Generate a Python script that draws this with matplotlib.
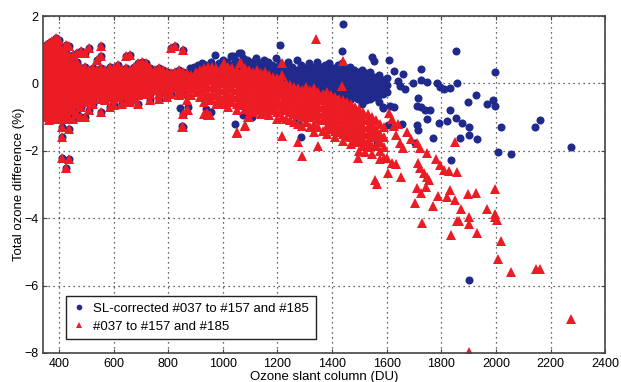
import matplotlib
matplotlib.use("Agg")
import matplotlib.pyplot as plt

plt.rcParams['font.family'] = ['Liberation Sans', 'DejaVu Sans']

# red triangles (#037 to #157 and #185): dense part, one list of y per x column
red_col_x = [352, 364, 376, 388, 400, 412, 424, 436, 450, 465, 480, 495, 510, 525,
             540, 555, 570, 585, 600, 615, 630, 645, 660, 675, 690, 705, 720, 735,
             750, 765, 780, 795, 810, 825, 840, 855, 870, 885, 900, 915, 930, 945,
             960, 975, 990, 1005, 1020, 1035, 1050, 1065, 1080, 1095, 1110, 1125,
             1140, 1155, 1170, 1185, 1200, 1215, 1230, 1245, 1260, 1275, 1290,
             1305, 1320, 1335, 1350, 1365, 1380, 1395, 1410, 1425, 1440, 1455,
             1470, 1485, 1500, 1515, 1530, 1545, 1560, 1575, 1590]
red_col_y = [
    [1.15, 0.95, 0.8, 0.65, 0.5, 0.35, 0.2, 0.05, -0.1, -0.25, -0.4, -0.55, -0.7, -0.85, -1.0],
    [1.2, 1.0, 0.85, 0.7, 0.55, 0.4, 0.25, 0.1, -0.05, -0.2, -0.35, -0.5, -0.65, -0.8, -0.95, -1.1],
    [1.25, 1.1, 0.9, 0.75, 0.6, 0.45, 0.3, 0.15, 0.0, -0.15, -0.3, -0.45, -0.6, -0.75, -0.9, -1.05],
    [1.35, 1.15, 0.95, 0.8, 0.65, 0.5, 0.35, 0.2, 0.05, -0.1, -0.25, -0.4, -0.55, -0.7, -0.85, -1.0],
    [1.3, 1.1, 0.9, 0.75, 0.6, 0.45, 0.3, 0.15, 0.0, -0.15, -0.3, -0.45, -0.6, -0.75, -0.9, -1.05],
    [1.0, 0.85, 0.7, 0.55, 0.4, 0.25, 0.1, -0.05, -0.2, -0.35, -0.5, -0.65, -0.8, -1.0, -1.3, -1.6, -2.2],
    [1.15, 0.9, 0.7, 0.55, 0.4, 0.25, 0.1, -0.05, -0.2, -0.35, -0.5, -0.65, -0.85, -1.05, -2.5],
    [1.1, 0.8, 0.6, 0.45, 0.3, 0.15, 0.0, -0.15, -0.3, -0.45, -0.6, -0.8, -1.0, -1.35, -2.25],
    [0.85, 0.6, 0.45, 0.3, 0.15, 0.0, -0.15, -0.3, -0.45, -0.6, -0.75, -1.05],
    [0.9, 0.65, 0.45, 0.3, 0.15, 0.0, -0.15, -0.3, -0.45, -0.6, -0.9],
    [0.95, 0.45, 0.3, 0.15, 0.0, -0.15, -0.3, -0.45, -0.7, -1.0],
    [0.9, 0.5, 0.35, 0.2, 0.05, -0.1, -0.25, -0.4, -0.55, -1.0],
    [1.05, 0.4, 0.25, 0.1, -0.05, -0.2, -0.35, -0.5, -0.8],
    [0.45, 0.3, 0.15, 0.0, -0.15, -0.3, -0.45, -0.6],
    [0.7, 0.4, 0.25, 0.1, -0.05, -0.2, -0.35],
    [1.1, 0.8, 0.45, 0.3, 0.15, 0.0, -0.15, -0.3, -0.45, -0.85],
    [0.4, 0.25, 0.1, -0.05, -0.2, -0.35, -0.5],
    [0.5, 0.35, 0.2, 0.05, -0.1, -0.25, -0.4, -0.7],
    [0.45, 0.3, 0.15, 0.0, -0.15, -0.3, -0.45, -0.65],
    [0.55, 0.35, 0.2, 0.05, -0.1, -0.25, -0.4],
    [0.4, 0.25, 0.1, -0.05, -0.2, -0.35, -0.6],
    [0.8, 0.45, 0.3, 0.15, 0.0, -0.15, -0.3, -0.55],
    [0.85, 0.4, 0.25, 0.1, -0.05, -0.2, -0.35, -0.55],
    [0.5, 0.35, 0.2, 0.05, -0.1, -0.25, -0.45],
    [0.6, 0.4, 0.25, 0.1, -0.05, -0.2, -0.35, -0.6],
    [0.65, 0.45, 0.3, 0.15, 0.0, -0.15, -0.3],
    [0.6, 0.5, 0.35, 0.2, 0.05, -0.1, -0.25],
    [0.45, 0.3, 0.15, 0.0, -0.15, -0.3, -0.5],
    [0.4, 0.25, 0.1, -0.05, -0.2],
    [0.45, 0.3, 0.15, 0.0, -0.15, -0.3, -0.45],
    [0.4, 0.25, 0.1, -0.05, -0.2],
    [0.35, 0.2, 0.05, -0.1, -0.25, -0.4],
    [1.05, 0.3, 0.15, 0.0, -0.15, -0.3],
    [1.1, 0.35, 0.2, 0.05, -0.1],
    [0.4, 0.2, 0.05, -0.1, -0.25, -0.35],
    [1.0, 0.35, 0.15, -0.05, -0.3, -0.9, -1.3],
    [0.3, 0.1, -0.1, -0.3, -0.5, -0.8],
    [0.25, 0.05, -0.15, -0.35],
    [0.35, 0.15, -0.05, -0.25],
    [0.4, 0.2, 0.0, -0.2, -0.4],
    [0.45, 0.25, 0.05, -0.15, -0.35, -0.55, -0.9],
    [0.5, 0.3, 0.1, -0.1, -0.3, -0.5, -0.95],
    [0.5, 0.3, 0.1, -0.1, -0.3, -0.5],
    [0.45, 0.25, 0.05, -0.15, -0.35, -0.6],
    [0.4, 0.2, 0.0, -0.2, -0.4, -0.55],
    [0.6, 0.4, 0.2, 0.0, -0.2, -0.4, -0.6],
    [0.5, 0.3, 0.1, -0.1, -0.3, -0.5, -0.7],
    [0.45, 0.25, 0.05, -0.15, -0.35, -0.55],
    [0.4, 0.2, 0.0, -0.2, -0.4, -0.6, -0.8, -1.45],
    [0.6, 0.35, 0.15, -0.05, -0.25, -0.45, -0.65],
    [0.45, 0.25, 0.05, -0.15, -0.35, -0.55, -0.75, -1.25],
    [0.4, 0.2, 0.0, -0.2, -0.4, -0.6, -0.8, -1.0],
    [0.35, 0.15, -0.05, -0.25, -0.45, -0.65, -0.85],
    [0.4, 0.2, 0.0, -0.2, -0.4, -0.6, -0.8],
    [0.3, 0.1, -0.1, -0.3, -0.5, -0.7, -0.9],
    [0.35, 0.15, -0.05, -0.25, -0.45, -0.65, -0.85],
    [0.25, 0.05, -0.15, -0.35, -0.55, -0.75, -0.95],
    [0.2, 0.0, -0.2, -0.4, -0.6, -0.8],
    [0.15, -0.05, -0.25, -0.45, -0.65, -0.85, -1.05],
    [0.6, 0.25, 0.05, -0.15, -0.35, -0.55, -0.75, -1.0, -1.55],
    [0.0, -0.2, -0.4, -0.6, -0.8, -1.05],
    [-0.05, -0.25, -0.45, -0.65, -0.85, -1.1],
    [-0.1, -0.3, -0.5, -0.7, -0.9, -1.15],
    [-0.15, -0.35, -0.55, -0.75, -0.95, -1.2, -1.75],
    [-0.2, -0.4, -0.6, -0.8, -1.0, -1.25, -2.15],
    [-0.1, -0.3, -0.5, -0.7, -0.9, -1.15],
    [-0.2, -0.4, -0.6, -0.8, -1.0, -1.3],
    [-0.15, -0.35, -0.55, -0.75, -0.95, -1.2, -1.45],
    [-0.25, -0.45, -0.65, -0.85, -1.05, -1.3, -1.85],
    [-0.3, -0.5, -0.7, -0.9, -1.1, -1.4],
    [-0.25, -0.45, -0.65, -0.85, -1.05, -1.25, -1.5],
    [-0.35, -0.55, -0.75, -0.95, -1.15, -1.35],
    [-0.4, -0.6, -0.8, -1.0, -1.2, -1.4, -1.6],
    [-0.45, -0.65, -0.85, -1.05, -1.25, -1.45],
    [-0.5, -0.7, -0.9, -1.1, -1.3, -1.5, -1.7],
    [-0.55, -0.75, -0.95, -1.15, -1.35, -1.55],
    [-0.6, -0.8, -1.0, -1.2, -1.4, -1.6, -1.8],
    [-0.7, -0.9, -1.1, -1.3, -1.5, -1.7],
    [-0.75, -0.95, -1.15, -1.35, -1.55, -1.75, -2.0],
    [-0.85, -1.05, -1.25, -1.45, -1.65, -1.85],
    [-0.9, -1.1, -1.3, -1.5, -1.7, -1.9],
    [-1.0, -1.2, -1.4, -1.6, -1.85, -2.1],
    [-1.1, -1.35, -1.6, -1.85],
    [-1.2, -1.5, -1.75, -2.0, -2.25],
    [-1.3, -1.6, -1.9, -2.2],
]

# red triangles: scattered points
red_x = [1341, 1439, 1435, 1610, 1628, 1634, 1649, 1661, 1850, 1712, 1722, 1747,
         1781, 1796, 1810, 1827, 1859, 1716, 1722, 1737, 1747, 1756, 1556, 1565,
         1604, 1653, 1710, 1725, 1744, 1789, 1820, 1830, 1899, 1926, 1998, 1705,
         1728, 1771, 1851, 1873, 1859, 1866, 1903, 1902, 1930, 1835, 1967, 1995,
         1998, 2003, 2020, 2009, 2057, 2145, 2162, 2274, 1902, 1062, 874, 849,
         942, 953, 1051, 1080, 1092, 1620, 1640, 1675, 1690, 1600, 1620, 1635,
         1495, 1520]
red_y = [1.32, 0.66, -0.08, -0.89, -1.26, -1.53, -1.78, -1.93, -1.73, -1.78, -1.93, -2.06,
         -2.25, -2.42, -2.57, -2.59, -2.62, -2.37, -2.52, -2.67, -2.77, -2.87, -2.87, -2.99,
         -2.65, -2.79, -3.11, -3.26, -3.07, -3.34, -3.38, -3.16, -3.29, -3.26, -3.14, -3.54,
         -4.15, -3.64, -3.47, -3.72, -4.09, -4.07, -3.96, -4.17, -4.43, -4.5, -3.74, -3.88,
         -3.96, -4.05, -4.68, -5.21, -5.59, -5.52, -5.5, -6.99, -7.96, 0.6, -0.79, -1.3,
         -0.88, -0.94, -1.48, -1.23, -0.99, -1.05, -1.2, -1.45, -1.65, -2.2, -2.35, -2.4,
         -2.2, -2.05]

# blue circles (SL-corrected): below ~870 DU they sit on the red points
blue_col_x = [880, 895, 910, 925, 940, 955, 970, 985, 1000, 1015, 1030, 1045, 1060,
              1075, 1090, 1105, 1120, 1135, 1150, 1165, 1180, 1195, 1210, 1225,
              1240, 1255, 1270, 1285, 1300, 1315, 1330, 1345, 1360, 1375, 1390,
              1405, 1420, 1435, 1450, 1465, 1480, 1495, 1510, 1525, 1540, 1555,
              1570, 1585, 1600]
blue_col_y = [
    [0.45, 0.25, 0.05],
    [0.5, 0.3, 0.1],
    [0.55, 0.35, 0.15],
    [0.6, 0.4, 0.2],
    [0.55, 0.35, -0.75],
    [0.65, 0.45, 0.25, -0.85],
    [0.85, 0.5, 0.3, 0.1],
    [0.6, 0.4, 0.2],
    [0.7, 0.5, 0.3, 0.1],
    [0.65, 0.45, 0.25, 0.05],
    [0.8, 0.55, 0.35, 0.15],
    [0.7, 0.5, 0.3, 0.1, -1.2],
    [0.9, 0.6, 0.4, 0.2, 0.0],
    [0.75, 0.55, 0.35, 0.15, -0.95],
    [0.7, 0.5, 0.3, 0.1, -0.05],
    [0.65, 0.45, 0.25, 0.05, -1.0],
    [0.75, 0.55, 0.35, 0.15, -0.05],
    [0.6, 0.4, 0.2, 0.0],
    [0.7, 0.5, 0.3, 0.1, -0.1],
    [0.65, 0.45, 0.25, 0.05, -0.15],
    [0.55, 0.35, 0.15, -0.05],
    [0.75, 0.5, 0.3, 0.1, -0.1],
    [1.15, 0.6, 0.4, 0.2, 0.0, -0.2],
    [0.5, 0.3, 0.1, -0.1],
    [0.65, 0.45, 0.25, 0.05, -0.15],
    [0.5, 0.3, 0.1, -0.1, -0.3],
    [0.7, 0.4, 0.2, 0.0, -0.2, -1.15],
    [0.55, 0.35, 0.15, -0.05, -0.25, -1.58],
    [0.45, 0.25, 0.05, -0.15, -0.35],
    [0.6, 0.4, 0.2, 0.0, -0.2],
    [0.5, 0.3, 0.1, -0.1, -0.3],
    [0.65, 0.45, 0.25, 0.05, -0.15, -0.4],
    [0.5, 0.3, 0.1, -0.1, -0.3],
    [0.55, 0.35, 0.15, -0.05, -0.25],
    [0.6, 0.4, 0.2, 0.0, -0.2, -0.45],
    [0.45, 0.25, 0.05, -0.15, -0.35],
    [0.55, 0.35, 0.15, -0.05, -0.25],
    [0.6, 0.4, 0.2, 0.0, -0.2, -0.4],
    [0.45, 0.25, 0.05, -0.15, -0.35],
    [0.5, 0.3, 0.1, -0.1, -0.3, -0.5],
    [0.4, 0.2, 0.0, -0.2, -0.4],
    [0.35, 0.15, -0.05, -0.25, -0.45],
    [0.4, 0.2, 0.0, -0.2, -0.4, -0.6],
    [0.3, 0.1, -0.1, -0.3, -0.5],
    [0.35, 0.15, -0.05, -0.25, -0.45],
    [0.2, 0.0, -0.2, -0.4],
    [0.25, 0.05, -0.15, -0.35, -0.55],
    [0.1, -0.1, -0.3, -0.7],
    [0.15, -0.05, -0.25],
]

blue_x = [1440, 1438, 1545, 1554, 1610, 1852, 1628, 1661, 1727, 1998, 1641, 1649,
          1667, 1698, 1726, 1747, 1783, 1796, 1810, 1832, 1859, 1926, 1899, 1967,
          1991, 1998, 1714, 1712, 1725, 1740, 1759, 1830, 1852, 1874, 1747, 1793,
          1820, 1902, 1869, 1902, 1930, 2020, 2143, 2162, 2274, 2009, 2057, 1835,
          1710, 1716, 1704, 1771, 1606, 1655, 1563, 1902, 1588, 1612, 1625, 849,
          874, 843, 1037, 1066]
blue_y = [1.75, 0.97, 0.77, 0.67, 0.69, 0.96, 0.38, 0.28, 0.42, 0.35, 0.08, -0.08,
          -0.18, 0.0, 0.1, 0.04, 0.0, -0.12, -0.18, -0.15, 0.0, -0.34, -0.54, -0.6,
          -0.49, -0.67, -0.44, -0.67, -0.71, -0.79, -0.79, -0.79, -1.04, -1.17, -1.07, -1.18,
          -1.12, -1.28, -1.63, -1.53, -1.66, -1.3, -1.3, -1.1, -1.88, -2.03, -2.1, -2.27,
          -1.23, -1.38, -1.78, -1.63, -1.23, -1.2, -1.78, -5.83, -0.74, -0.67, -0.69, -1.25,
          -0.7, -0.73, 0.8, 0.9]

rx = [x for x, col in zip(red_col_x, red_col_y) for _ in col] + red_x
ry = [y for col in red_col_y for y in col] + red_y

bx = [x for x, col in zip(red_col_x, red_col_y) if x < 870 for _ in col]
by = [y for x, col in zip(red_col_x, red_col_y) if x < 870 for y in col]
bx += [x for x, col in zip(blue_col_x, blue_col_y) for _ in col] + blue_x
by += [y for col in blue_col_y for y in col] + blue_y

blue = '#1f2a8c'
red = '#ec1c24'

fig = plt.figure(figsize=(6.21, 3.82), dpi=100)
ax = fig.add_axes([0.0695, 0.076, 0.905, 0.882])

ax.plot(bx, by, 'o', color=blue, markersize=5.8, markeredgewidth=0,
        label='SL-corrected #037 to #157 and #185')
ax.plot(rx, ry, '^', color=red, markersize=7.0, markeredgewidth=0,
        label='#037 to #157 and #185')

ax.set_xlim(342, 2400)
ax.set_ylim(-8, 2)
ax.set_xticks(range(400, 2401, 200))
ax.set_yticks(range(-8, 3, 2))
ax.grid(True, linestyle=(0, (1, 3)), color='#333333', linewidth=0.9)
ax.set_axisbelow(True)
ax.tick_params(direction='in', length=3, labelsize=9, top=True, right=True,
               color='#444444')
for s in ax.spines.values():
    s.set_color('#444444')
    s.set_linewidth(1.2)

ax.set_xlabel('Ozone slant column (DU)', fontsize=9.5, labelpad=1)
ax.set_ylabel('Total ozone difference (%)', fontsize=9.5, labelpad=-1)

leg = ax.legend(loc='lower left', bbox_to_anchor=(0.04, 0.04), borderaxespad=0,
                fontsize=9.5, fancybox=False, framealpha=1, edgecolor='#222222',
                handlelength=1.0, handletextpad=0.6, borderpad=0.5, labelspacing=0.45,
                markerscale=0.7)
leg.get_frame().set_linewidth(1.0)

fig.savefig('out.png', dpi=100)
